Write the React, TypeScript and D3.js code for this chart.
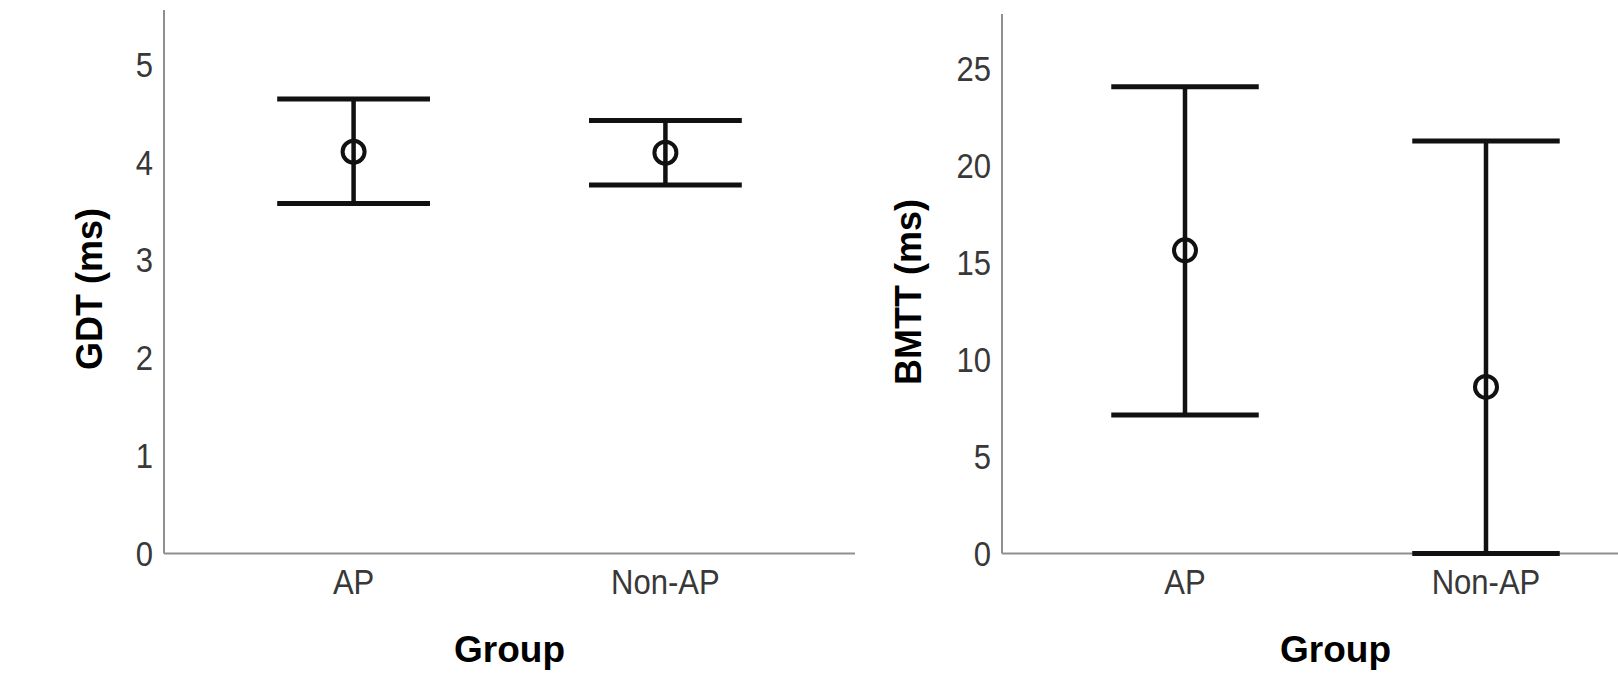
import React from "react";
import * as d3 from "d3";

const groups = ["AP", "Non-AP"];

const gdtMean = [4.11, 4.1];
const gdtLower = [3.58, 3.77];
const gdtUpper = [4.65, 4.43];
const gdtTicks = [0, 1, 2, 3, 4, 5];

const bmttMean = [15.65, 8.6];
const bmttLower = [7.15, 0];
const bmttUpper = [24.1, 21.3];
const bmttTicks = [0, 5, 10, 15, 20, 25];

type PanelProps = {
  mean: number[];
  lower: number[];
  upper: number[];
  ticks: number[];
  yMax: number;
  xRange: [number, number];
  yTop: number;
  yTitle: string;
  yTitleX: number;
  yTitleY: number;
};

const Y0 = 553.5;
const FONT = "'Liberation Sans', Arial, sans-serif";

function Panel(p: PanelProps) {
  const x = d3.scalePoint<string>().domain(groups).range(p.xRange).padding(0.608);
  const y = d3.scaleLinear().domain([0, p.yMax]).range([Y0, p.yTop]);
  const step = x.step();
  const capHalf = step * 0.245;
  const axisX = p.xRange[0];
  return (
    <g>
      <line x1={axisX} x2={axisX} y1={p.yTop} y2={Y0} stroke="#8f8f8f" strokeWidth={2} />
      <line x1={axisX} x2={p.xRange[1]} y1={Y0} y2={Y0} stroke="#8f8f8f" strokeWidth={2} />
      {p.ticks.map((t) => (
        <text
          key={t}
          transform={`translate(${axisX - 11},${y(t)}) scale(0.97,1.08)`}
          textAnchor="end"
          dominantBaseline="central"
          fontFamily={FONT}
          fontSize={32}
          fill="#383838"
        >
          {t}
        </text>
      ))}
      {groups.map((g, i) => {
        const cx = x(g) as number;
        return (
          <g key={g}>
            <line x1={cx} x2={cx} y1={y(p.lower[i])} y2={y(p.upper[i])} stroke="#111" strokeWidth={4.5} />
            <line x1={cx - capHalf} x2={cx + capHalf} y1={y(p.upper[i])} y2={y(p.upper[i])} stroke="#111" strokeWidth={5} />
            <line x1={cx - capHalf} x2={cx + capHalf} y1={y(p.lower[i])} y2={y(p.lower[i])} stroke="#111" strokeWidth={5} />
            <circle cx={cx} cy={y(p.mean[i])} r={11} fill="none" stroke="#111" strokeWidth={4} />
            <text
              transform={`translate(${cx},582) scale(0.97,1.08)`}
              textAnchor="middle"
              dominantBaseline="central"
              fontFamily={FONT}
              fontSize={32}
              fill="#383838"
            >
              {g}
            </text>
          </g>
        );
      })}
      <text
        x={(p.xRange[0] + p.xRange[1]) / 2}
        y={649}
        textAnchor="middle"
        dominantBaseline="central"
        fontFamily={FONT}
        fontSize={37}
        fontWeight="bold"
        fill="#000"
      >
        Group
      </text>
      <text
        transform={`translate(${p.yTitleX},${p.yTitleY}) rotate(-90)`}
        textAnchor="middle"
        dominantBaseline="central"
        fontFamily={FONT}
        fontSize={36}
        fontWeight="bold"
        fill="#000"
      >
        {p.yTitle}
      </text>
    </g>
  );
}

export default function App() {
  return (
    <svg
      width={1618}
      height={674}
      style={{ position: "absolute", left: 0, top: 0, background: "#fff" }}
    >
      <rect width={1618} height={674} fill="#fff" />
      <Panel
        mean={gdtMean}
        lower={gdtLower}
        upper={gdtUpper}
        ticks={gdtTicks}
        yMax={5.56}
        xRange={[164, 855]}
        yTop={10}
        yTitle="GDT (ms)"
        yTitleX={89}
        yTitleY={289}
      />
      <Panel
        mean={bmttMean}
        lower={bmttLower}
        upper={bmttUpper}
        ticks={bmttTicks}
        yMax={27.85}
        xRange={[1002, 1669]}
        yTop={14}
        yTitle="BMTT (ms)"
        yTitleX={908}
        yTitleY={292}
      />
    </svg>
  );
}
